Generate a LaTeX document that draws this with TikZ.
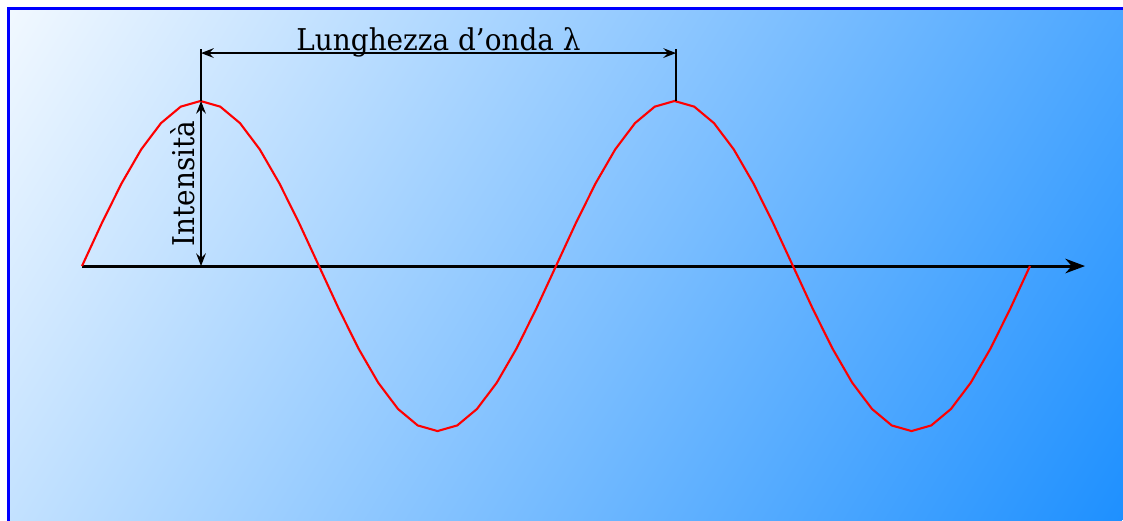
\documentclass[tikz,border=0pt]{standalone}
\usepackage{fontspec}
\setmainfont[FakeStretch=0.93]{DejaVu Serif}
\usetikzlibrary{arrows.meta}
\definecolor{frameBlue}{RGB}{0,0,255}
\definecolor{waveRed}{RGB}{255,0,0}
\definecolor{deepSky}{RGB}{30,144,255}
\colorlet{paleSky}{deepSky!6!white}

\begin{document}
\begin{tikzpicture}[
    axisline/.style={-{Stealth[length=2.3mm,width=1.7mm]},line width=1pt,black},
    dimline/.style={{Stealth[length=1.5mm,width=1.15mm,inset=0.55mm]}-{Stealth[length=1.5mm,width=1.15mm,inset=0.55mm]},thin,black},
    extline/.style={thin,black},
    wave/.style={line width=0.7pt,waveRed}
  ]
  \useasboundingbox (-0.961,-2.977) rectangle (12.200,3.118);
  \clip (-0.961,-2.977) rectangle (12.200,3.118);
  % sfondo sfumato
  \begin{scope}
    \clip (-0.867,-3.2) rectangle (12.4,3.024);
    \begin{scope}[transform canvas={rotate around={-31.5:(5.667,0.023)}}]
      \shade[left color=paleSky,right color=deepSky] (-1.468,-5.947) rectangle (12.802,5.993);
    \end{scope}
  \end{scope}
  \draw[frameBlue,line width=1pt] (-0.867,-3.2) rectangle (12.4,3.024);
  % punti dell'onda
  \coordinate (origin) at (0,0);
  \coordinate (axisend) at (11.755,0);
  \coordinate (crestA) at (1.395,1.934);
  \coordinate (crestB) at (6.962,1.934);
  \coordinate (footA) at (1.395,0);
  \coordinate (tickA) at (1.395,2.543);
  \coordinate (tickB) at (6.962,2.543);
  \coordinate (dimA) at (1.395,2.496);
  \coordinate (dimB) at (6.962,2.496);
  \draw[axisline] (origin) -- (axisend);
  \draw[wave] plot[domain=0:720,samples=49] ({\x/720*11.11},{1.934*sin(\x)});
  \draw[extline] (crestA) -- (tickA);
  \draw[extline] (crestB) -- (tickB);
  \draw[dimline] (dimA) -- (dimB) node[midway,anchor=base,yshift=1pt] (lambda) {Lunghezza d’onda λ};
  \draw[dimline] (footA) -- (crestA) node[midway,above,sloped,inner sep=2pt] (intens) {Intensità};
\end{tikzpicture}
\end{document}
